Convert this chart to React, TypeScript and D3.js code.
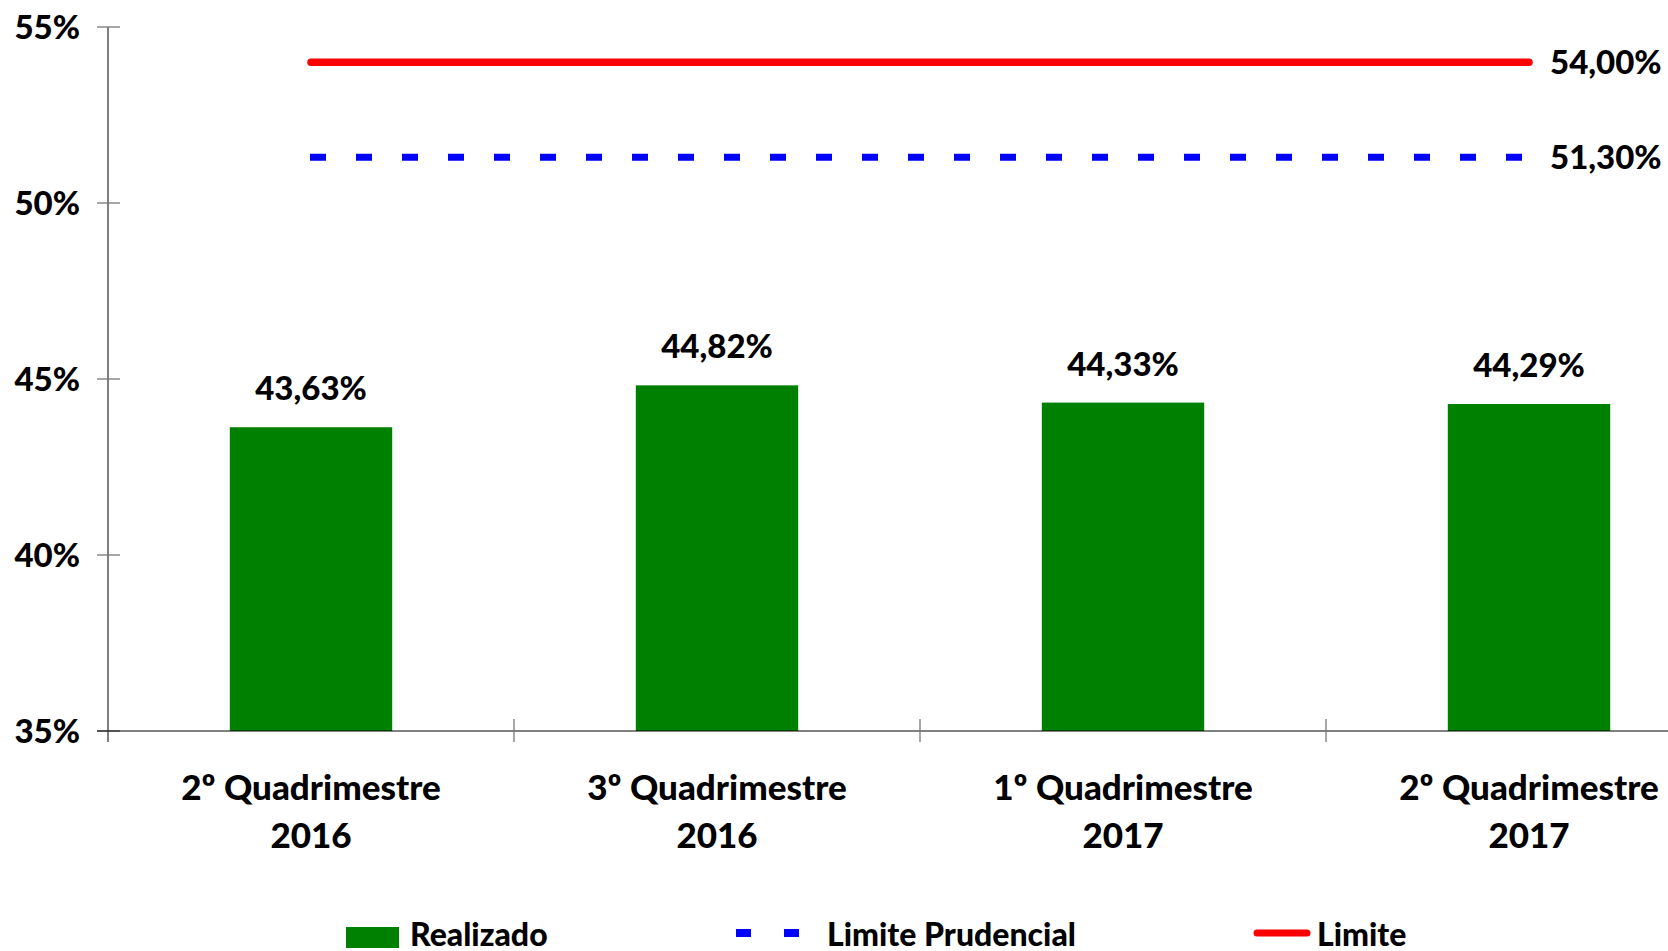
import React, { useEffect } from "react";
import * as d3 from "d3";

const categories = [
  ["2º Quadrimestre", "2016"],
  ["3º Quadrimestre", "2016"],
  ["1º Quadrimestre", "2017"],
  ["2º Quadrimestre", "2017"],
];
const realizado = [43.63, 44.82, 44.33, 44.29];
const limitePrudencial = 51.3;
const limite = 54.0;
const yTicks = [35, 40, 45, 50, 55];

const fmt = (v: number) => v.toFixed(2).replace(".", ",") + "%";
const font = "Lato, 'Open Sans', sans-serif";

export default function App() {
  useEffect(() => {
    document.body.style.margin = "0";
  }, []);

  const width = 1668;
  const height = 951;
  const left = 108;

  const keys = categories.map((c) => c.join(" "));
  const x = d3.scaleBand().domain(keys).range([left, left + 406 * 4]).padding(0);
  const y = d3.scaleLinear().domain([35, 55]).range([731, 27]);
  const barW = x.bandwidth() * 0.4;
  const center = (i: number) => (x(keys[i]) as number) + x.bandwidth() / 2;

  const x0 = center(0);
  const x1 = center(keys.length - 1);

  return (
    <svg width={width} height={height} style={{ display: "block" }} fontFamily={font} fontWeight={900}>
      <rect width={width} height={height} fill="#fff" />

      {/* bars */}
      {realizado.map((v, i) => (
        <g key={i}>
          <rect x={center(i) - barW / 2} y={y(v)} width={barW} height={y(35) - y(v)} fill="#008000" />
          <text x={center(i)} y={y(v) - 27} textAnchor="middle" fontSize={33} fill="#000">
            {fmt(v)}
          </text>
        </g>
      ))}

      {/* y axis */}
      <line x1={left} x2={left} y1={y(55)} y2={y(35) + 11} stroke="#000" strokeWidth={1} />
      {yTicks.map((t) => (
        <g key={t}>
          <line x1={left - 11} x2={left + 12} y1={y(t)} y2={y(t)} stroke="#777" strokeWidth={1.3} />
          <text x={80} y={y(t)} dy="0.36em" textAnchor="end" fontSize={33} fill="#000">
            {t}%
          </text>
        </g>
      ))}

      {/* x axis */}
      <line x1={left - 11} x2={width} y1={y(35)} y2={y(35)} stroke="#000" strokeWidth={1} />
      {keys.slice(1).map((k) => (
        <line key={k} x1={x(k)} x2={x(k)} y1={y(35) - 12} y2={y(35) + 11} stroke="#777" strokeWidth={1.3} />
      ))}
      {categories.map((c, i) => (
        <text key={i} textAnchor="middle" fontSize={35} fill="#000">
          <tspan x={center(i)} y={800}>{c[0]}</tspan>
          <tspan x={center(i)} y={848}>{c[1]}</tspan>
        </text>
      ))}

      {/* limits */}
      <line x1={x0} x2={x1} y1={y(limite)} y2={y(limite)} stroke="#ff0000" strokeWidth={7.5} strokeLinecap="round" />
      <line x1={x0 - 1} x2={x1} y1={y(limitePrudencial)} y2={y(limitePrudencial)} stroke="#0000ff" strokeWidth={7} strokeDasharray="16 30" />
      <text x={1550} y={y(limite)} dy="0.36em" fontSize={33} fill="#000">{fmt(limite)}</text>
      <text x={1550} y={y(limitePrudencial)} dy="0.36em" fontSize={33} fill="#000">{fmt(limitePrudencial)}</text>

      {/* legend */}
      <g fontSize={32} fill="#000">
        <rect x={346} y={927} width={53} height={21} fill="#008000" />
        <text x={410} y={946}>Realizado</text>
        <line x1={736} x2={800} y1={933} y2={933} stroke="#0000ff" strokeWidth={8} strokeDasharray="15 33" />
        <text x={827} y={946}>Limite Prudencial</text>
        <line x1={1257} x2={1307} y1={933} y2={933} stroke="#ff0000" strokeWidth={7} strokeLinecap="round" />
        <text x={1317} y={946}>Limite</text>
      </g>
    </svg>
  );
}
